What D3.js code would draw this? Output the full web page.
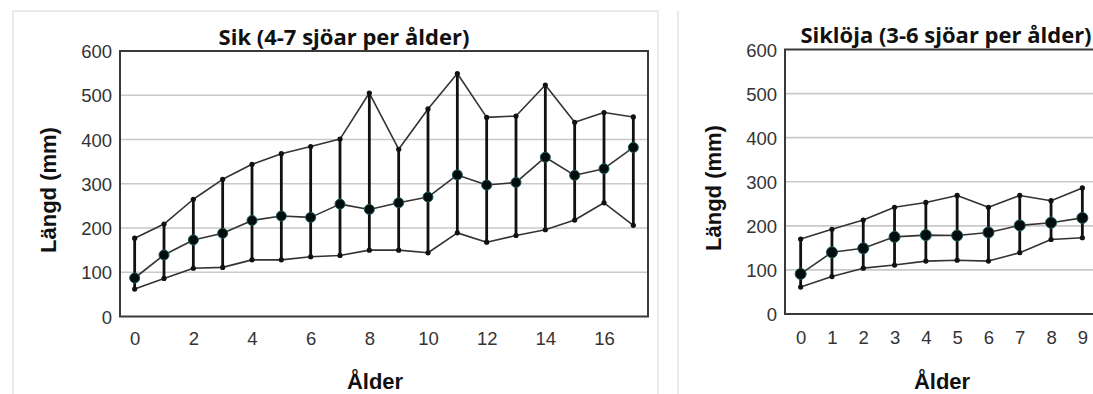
<!DOCTYPE html>
<html>
<head>
<meta charset="utf-8">
<script src="https://cdn.jsdelivr.net/npm/d3@7"></script>
<style>
  body { margin: 0; background: #fff; }
  svg { display: block; }
  .tick text { font-family: "Liberation Sans", Arial, sans-serif; font-size: 18.5px; fill: #333; }
  .ytitle, .xtitle { font-family: "Liberation Sans", Arial, sans-serif; font-weight: bold; fill: #111; }
  .title { font-family: "Open Sans", sans-serif; font-weight: 700; fill: #111; }
</style>
</head>
<body>
<svg id="chart" width="1093" height="394"></svg>
<script>
// Sik, ages 0-17
var sikAges  = [0,1,2,3,4,5,6,7,8,9,10,11,12,13,14,15,16,17];
var sikMean  = [87,139,173,188,217,227,224,254,242,257,270,320,297,303,360,319,334,382];
var sikUpper = [177,209,265,310,344,368,384,401,505,378,469,549,450,453,523,439,461,451];
var sikLower = [62,86,109,111,128,128,135,138,150,150,144,189,168,183,196,218,257,206];
var sikTicks = [0,2,4,6,8,10,12,14,16];

// Siklöja, ages 0-9
var sikl_Ages  = [0,1,2,3,4,5,6,7,8,9];
var sikl_Mean  = [91,140,149,175,179,178,185,201,207,218];
var sikl_Upper = [170,192,213,242,253,269,242,269,257,286];
var sikl_Lower = [61,85,104,111,120,122,120,139,169,173];
var sikl_Ticks = [0,1,2,3,4,5,6,7,8,9];

var yTicks = [0,100,200,300,400,500,600];
var gridValues = [100,200,300,400,500];

(function(){
	var svg = d3.select('#chart');

	// panel borders (pasted images)
	svg.append('rect')
		.attr('x',13).attr('y',11).attr('width',645).attr('height',400)
		.attr('fill','#fff').attr('stroke','#e4e4e4').attr('stroke-width',1.5);
	svg.append('line')
		.attr('x1',678).attr('x2',678).attr('y1',11).attr('y2',394)
		.attr('stroke','#e4e4e4').attr('stroke-width',1.5);

	var drawPanel = function(p){
		var x = d3.scaleLinear().domain([p.ages[0]-0.5, p.ages[p.ages.length-1]+0.5]).range([p.left, p.right]);
		var y = d3.scaleLinear().domain([0,600]).range([p.bottom, p.top]);
		var g = svg.append('g');

		// gridlines
		g.selectAll('line.grid')
			.data(gridValues)
			.enter().append('line')
			.attr('class','grid')
			.attr('x1',p.left).attr('x2',p.right)
			.attr('y1',function(d){ return y(d);}).attr('y2',function(d){ return y(d);})
			.attr('stroke','#c9c9c9').attr('stroke-width',1.6);

		// frame
		g.append('rect')
			.attr('x',p.left).attr('y',p.top)
			.attr('width',p.right-p.left).attr('height',p.bottom-p.top)
			.attr('fill','none').attr('stroke','#3a3a3a').attr('stroke-width',2);

		// axes
		g.append('g')
			.attr('transform','translate(' + p.left + ',0)')
			.call(d3.axisLeft(y).tickValues(yTicks).tickSize(0).tickPadding(8))
			.call(function(a){ a.select('.domain').remove(); })
			.selectAll('text').attr('dy','0.36em');
		g.append('g')
			.attr('transform','translate(0,' + p.bottom + ')')
			.call(d3.axisBottom(x).tickValues(p.ticks).tickSize(0).tickPadding(p.xPad))
			.call(function(a){ a.select('.domain').remove(); });

		// connecting lines
		var lineGen = function(vals){
			return d3.line()
				.x(function(d,i){ return x(p.ages[i]);})
				.y(function(d){ return y(d);})(vals);
		};
		[p.upper, p.mean, p.lower].forEach(function(vals){
			g.append('path')
				.attr('d',lineGen(vals))
				.attr('fill','none')
				.attr('stroke','#333')
				.attr('stroke-width',1.6)
				.attr('stroke-linejoin','round');
		});

		// error bars
		g.selectAll('line.err')
			.data(p.ages)
			.enter().append('line')
			.attr('class','err')
			.attr('x1',function(d){ return x(d);}).attr('x2',function(d){ return x(d);})
			.attr('y1',function(d,i){ return y(p.lower[i]);})
			.attr('y2',function(d,i){ return y(p.upper[i]);})
			.attr('stroke','#111').attr('stroke-width',2.8);

		// end dots
		[p.upper, p.lower].forEach(function(vals){
			g.selectAll(null)
				.data(vals)
				.enter().append('circle')
				.attr('cx',function(d,i){ return x(p.ages[i]);})
				.attr('cy',function(d){ return y(d);})
				.attr('r',2.6)
				.attr('fill','#111');
		});

		// mean markers
		g.selectAll('circle.mean')
			.data(p.mean)
			.enter().append('circle')
			.attr('class','mean')
			.attr('cx',function(d,i){ return x(p.ages[i]);})
			.attr('cy',function(d){ return y(d);})
			.attr('r',p.meanR)
			.attr('fill','#030d0d')
			.attr('stroke','#1d5656')
			.attr('stroke-width',1);

		// titles
		svg.append('text')
			.attr('class','title')
			.attr('x',p.titleX).attr('y',p.titleY)
			.attr('text-anchor','middle')
			.style('font-size','22px')
			.text(p.title);
		svg.append('text')
			.attr('class','ytitle')
			.attr('transform','translate(' + p.yTitleX + ',' + p.yTitleY + ') rotate(-90)')
			.attr('text-anchor','middle')
			.style('font-size','22px')
			.text('Längd (mm)');
		svg.append('text')
			.attr('class','xtitle')
			.attr('x',p.xTitleX).attr('y',389)
			.attr('text-anchor','middle')
			.style('font-size','22px')
			.text('Ålder');
	};

	drawPanel({
		ages: sikAges, mean: sikMean, upper: sikUpper, lower: sikLower, ticks: sikTicks,
		left: 120, right: 648, top: 51, bottom: 316.5, xPad: 15, meanR: 5,
		title: 'Sik (4-7 sjöar per ålder)', titleX: 344, titleY: 45,
		yTitleX: 56, yTitleY: 190, xTitleX: 375
	});
	drawPanel({
		ages: sikl_Ages, mean: sikl_Mean, upper: sikl_Upper, lower: sikl_Lower, ticks: sikl_Ticks,
		left: 785, right: 1098, top: 49.5, bottom: 314, xPad: 17, meanR: 5.5,
		title: 'Siklöja (3-6 sjöar per ålder)', titleX: 946, titleY: 43,
		yTitleX: 721, yTitleY: 188, xTitleX: 942
	});
})();
</script>
</body>
</html>
